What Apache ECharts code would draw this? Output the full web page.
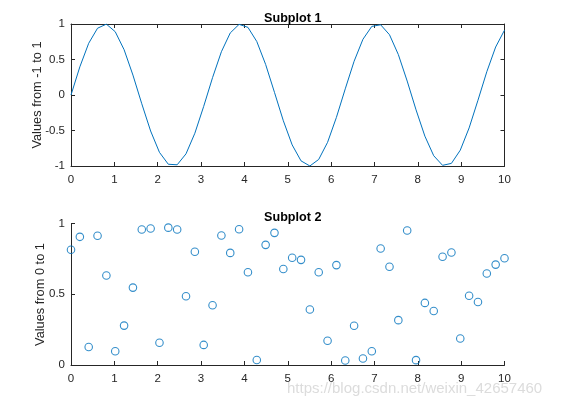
<!DOCTYPE html>
<html>
<head>
<meta charset="utf-8">
<script src="https://cdn.jsdelivr.net/npm/echarts@6/dist/echarts.min.js"></script>
<style>html,body{margin:0;padding:0;background:#fff}#c{width:568px;height:409px}</style>
</head>
<body>
<div id="c"></div>
<script>
// Sample positions (x values, 50 points from 0 to 10)
var xValues = [0, 0.2041, 0.4082, 0.6122, 0.8163, 1.0204, 1.2245, 1.4286, 1.6327, 1.8367,
  2.0408, 2.2449, 2.4490, 2.6531, 2.8571, 3.0612, 3.2653, 3.4694, 3.6735, 3.8776,
  4.0816, 4.2857, 4.4898, 4.6939, 4.8980, 5.1020, 5.3061, 5.5102, 5.7143, 5.9184,
  6.1224, 6.3265, 6.5306, 6.7347, 6.9388, 7.1429, 7.3469, 7.5510, 7.7551, 7.9592,
  8.1633, 8.3673, 8.5714, 8.7755, 8.9796, 9.1837, 9.3878, 9.5918, 9.7959, 10];
// Subplot 1 line values
var lineValues = [0, 0.3969, 0.7286, 0.9405, 0.9981, 0.8915, 0.6386, 0.2808, -0.1234, -0.5071,
  -0.8077, -0.9754, -0.9829, -0.8286, -0.5386, -0.1601, 0.2449, 0.6096, 0.8741, 0.9951,
  0.9528, 0.7535, 0.4306, 0.0370, -0.3627, -0.7027, -0.9276, -0.9997, -0.9076, -0.6667,
  -0.3160, 0.0866, 0.4751, 0.7852, 0.9665, 0.9889, 0.8489, 0.5696, 0.1965, -0.2089,
  -0.5798, -0.8555, -0.9907, -0.9632, -0.7772, -0.4637, -0.0740, 0.3279, 0.6757, 0.9129];
// Subplot 2 scatter values
var scatterValues = [0.8147, 0.9058, 0.1270, 0.9134, 0.6324, 0.0975, 0.2785, 0.5469, 0.9575, 0.9649,
  0.1576, 0.9706, 0.9572, 0.4854, 0.8003, 0.1419, 0.4218, 0.9157, 0.7922, 0.9595,
  0.6557, 0.0357, 0.8491, 0.9340, 0.6787, 0.7577, 0.7431, 0.3922, 0.6555, 0.1712,
  0.7060, 0.0318, 0.2769, 0.0462, 0.0971, 0.8235, 0.6948, 0.3171, 0.9502, 0.0344,
  0.4387, 0.3816, 0.7655, 0.7952, 0.1869, 0.4898, 0.4456, 0.6463, 0.7094, 0.7547];
var titles = ['Subplot 1', 'Subplot 2'];
var yNames = ['Values from -1 to 1', 'Values from 0 to 1'];
var watermark = 'https://blog.csdn.net/weixin_42657460';

var FONT = "'Liberation Sans', Arial, sans-serif";
var AX = '#262626';
var BLUE = '#0072BD';

function pairs(xs, ys) { return xs.map(function (x, i) { return [x, ys[i]]; }); }

function mainX(gi) {
  return {
    type: 'value', gridIndex: gi, min: 0, max: 10, interval: 1,
    axisLine: { show: true, onZero: false, lineStyle: { color: AX, width: 1 } },
    axisTick: { show: true, inside: true, length: 4, lineStyle: { color: AX } },
    axisLabel: { show: true, margin: 8, color: AX, fontSize: 11.5, fontFamily: FONT },
    splitLine: { show: false }
  };
}
function mirrorX(gi) {
  return {
    type: 'value', gridIndex: gi, position: 'top', min: 0, max: 10, interval: 1,
    axisLine: { show: true, onZero: false, lineStyle: { color: AX, width: 1 } },
    axisTick: { show: true, inside: true, length: 4, lineStyle: { color: AX } },
    axisLabel: { show: false }, splitLine: { show: false }
  };
}
function mainY(gi, min, max, interval) {
  return {
    type: 'value', gridIndex: gi, min: min, max: max, interval: interval,
    axisLine: { show: true, onZero: false, lineStyle: { color: AX, width: 1 } },
    axisTick: { show: true, inside: true, length: 4, lineStyle: { color: AX } },
    axisLabel: { show: true, margin: 6, color: AX, fontSize: 11.5, fontFamily: FONT },
    splitLine: { show: false }
  };
}
function mirrorY(gi, min, max, interval) {
  return {
    type: 'value', gridIndex: gi, position: 'right', min: min, max: max, interval: interval,
    axisLine: { show: true, onZero: false, lineStyle: { color: AX, width: 1 } },
    axisTick: { show: true, inside: true, length: 4, lineStyle: { color: AX } },
    axisLabel: { show: false }, splitLine: { show: false }
  };
}
function yName(text, cx, cy) {
  return {
    type: 'text', x: cx, y: cy, rotation: Math.PI / 2,
    style: { text: text, fill: AX, font: '12.8px ' + FONT, textAlign: 'center', textVerticalAlign: 'middle' }
  };
}

var chart = echarts.init(document.getElementById('c'), null, { renderer: 'canvas' });
chart.setOption({
  animation: false,
  backgroundColor: '#fff',
  title: [
    { text: titles[0], left: 287.75, top: 7, textAlign: 'center',
      textStyle: { fontSize: 12.6, fontWeight: 'bold', color: '#000', fontFamily: FONT } },
    { text: titles[1], left: 287.75, top: 206.5, textAlign: 'center',
      textStyle: { fontSize: 12.6, fontWeight: 'bold', color: '#000', fontFamily: FONT } }
  ],
  grid: [
    { left: 71, top: 24, width: 433.5, height: 142 },
    { left: 71, top: 223.5, width: 433.5, height: 141.5 }
  ],
  xAxis: [mainX(0), mirrorX(0), mainX(1)],
  yAxis: [mainY(0, -1, 1, 0.5), mirrorY(0, -1, 1, 0.5), mainY(1, 0, 1, 0.5)],
  series: [
    { type: 'line', xAxisIndex: 0, yAxisIndex: 0, data: pairs(xValues, lineValues),
      showSymbol: false, symbol: 'none', lineStyle: { color: BLUE, width: 1 } },
    { type: 'scatter', xAxisIndex: 2, yAxisIndex: 2, data: pairs(xValues, scatterValues),
      symbol: 'circle', symbolSize: 7.5,
      itemStyle: { color: 'rgba(0,0,0,0)', borderColor: BLUE, borderWidth: 1.1 } }
  ],
  graphic: [
    yName(yNames[0], 37, 95),
    yName(yNames[1], 40, 294.5),
    { type: 'text', left: 287, top: 381,
      style: { text: watermark, fill: '#dcdcdc', font: '15px ' + FONT } }
  ]
});
</script>
</body>
</html>
